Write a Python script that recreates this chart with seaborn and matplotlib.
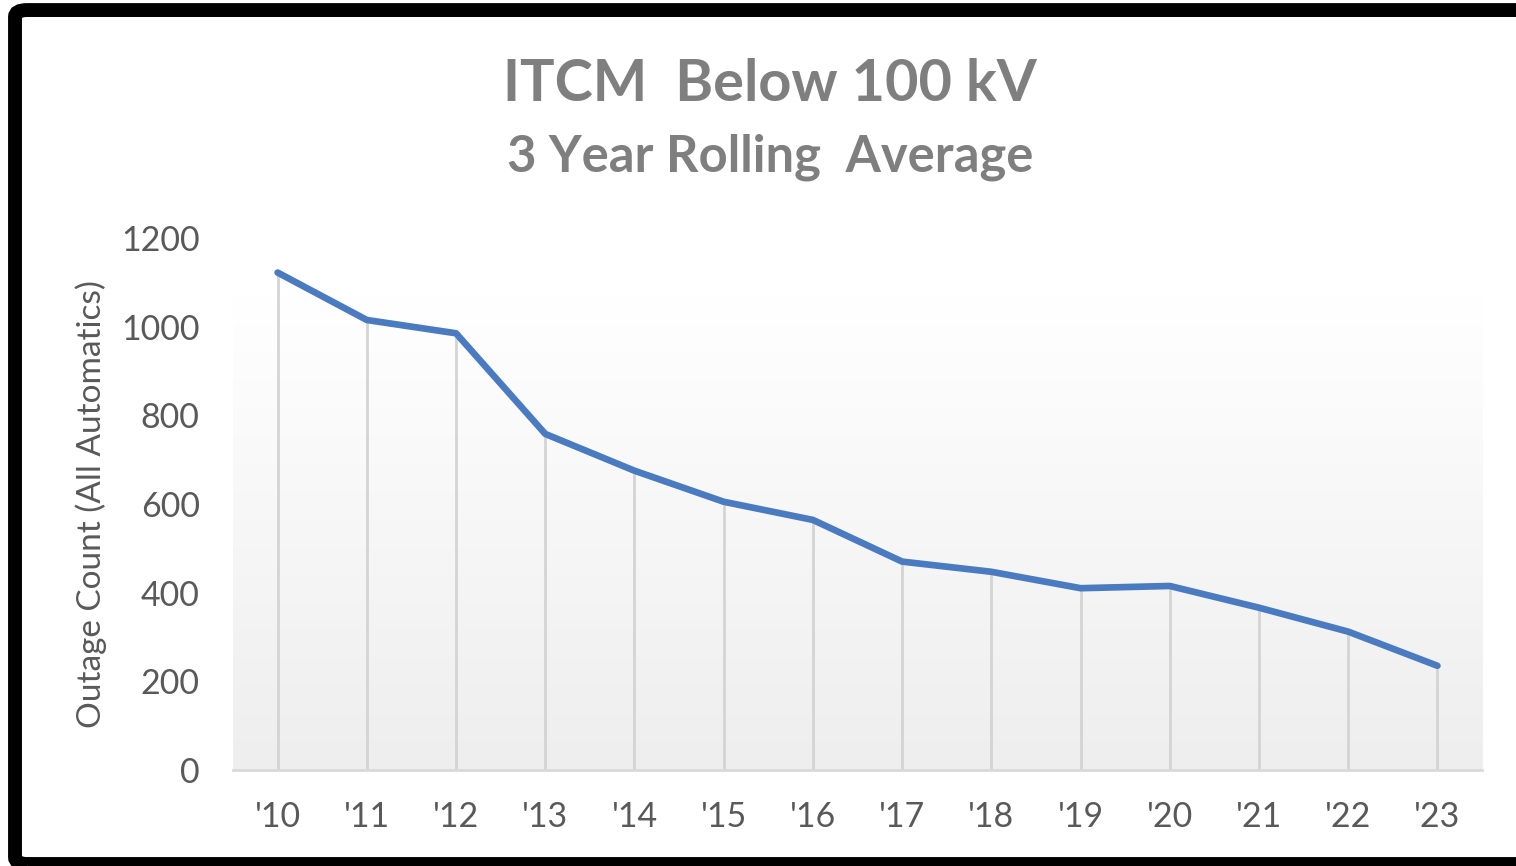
import numpy as np
import pandas as pd
import matplotlib
matplotlib.use("Agg")
import matplotlib.pyplot as plt
import seaborn as sns
from matplotlib.colors import LinearSegmentedColormap
from matplotlib.patches import FancyBboxPatch

sns.set_style("white")
plt.rcParams["font.family"] = ["Lato", "DejaVu Sans"]

# dados
anos = ["'10", "'11", "'12", "'13", "'14", "'15", "'16",
        "'17", "'18", "'19", "'20", "'21", "'22", "'23"]
contagem = [1122, 1015, 985, 758, 675, 605, 564,
            470, 447, 410, 415, 366, 312, 235]

df = pd.DataFrame({"pos": np.arange(len(anos)), "ano": anos, "contagem": contagem})

fig = plt.figure(figsize=(15.16, 8.66), dpi=100)
fig.patch.set_facecolor("white")
ax = fig.add_axes([0.1537, 0.1109, 0.8239, 0.6143])

# fundo em degradê da área do gráfico
grad = LinearSegmentedColormap.from_list("grad", ["#FFFFFF", "#EEEEEE"])
ax.imshow(np.linspace(0, 1, 256).reshape(-1, 1), cmap=grad, aspect="auto",
          extent=[0, 1, 0, 0.89], transform=ax.transAxes, zorder=0)

# linhas verticais até o eixo
ax.vlines(df["pos"], 0, df["contagem"], color="#D4D4D4", lw=2, zorder=1)

sns.lineplot(data=df, x="pos", y="contagem", color="#4A7BC0", lw=4.8,
             ax=ax, zorder=3, solid_capstyle="round")

ax.set_xlim(-0.5, len(anos) - 0.5)
ax.set_ylim(0, 1200)
ax.set_xticks(df["pos"])
ax.set_xticklabels(anos)
ax.set_yticks(range(0, 1201, 200))
ax.tick_params(axis="both", length=0, labelsize=24.5, labelcolor="#595959")
ax.tick_params(axis="x", pad=22)
ax.tick_params(axis="y", pad=24)
ax.set_xlabel("")
ax.set_ylabel("Outage Count (All Automatics)", fontsize=24, color="#595959", labelpad=10)

for s in ["top", "right", "left"]:
    ax.spines[s].set_visible(False)
ax.spines["bottom"].set_color("#D9D9D9")
ax.spines["bottom"].set_linewidth(2)
ax.patch.set_alpha(0)

# títulos
fig.text(0.508, 0.903, "ITCM  Below 100 kV", ha="center", va="center",
         fontsize=41.5, fontweight="bold", color="#7F7F7F")
fig.text(0.508, 0.818, "3 Year Rolling  Average", ha="center", va="center",
         fontsize=36.5, fontweight="bold", color="#7F7F7F")

# moldura preta (lado direito cortado, como na imagem original)
fig.patches.append(FancyBboxPatch((0.0099, 0.0023), 1.05, 0.9861,
                                  boxstyle="round,pad=0,rounding_size=0.008",
                                  transform=fig.transFigure, fill=False,
                                  edgecolor="black", lw=10))

plt.savefig("out.png", dpi=100)
